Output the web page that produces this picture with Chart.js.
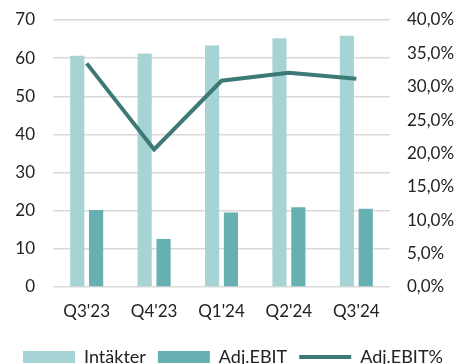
<!DOCTYPE html>
<html>
<head>
<meta charset="utf-8">
<script src="https://cdn.jsdelivr.net/npm/chart.js@4"></script>
<style>
  html, body { margin: 0; padding: 0; background: #fff; overflow: hidden; }
  #wrap { width: 466px; height: 376px; position: relative; }
</style>
</head>
<body>
<div id="wrap"><canvas id="myChart"></canvas></div>
<script>
const quarters = ["Q3'23", "Q4'23", "Q1'24", "Q2'24", "Q3'24"];
const intakter = [60.6, 61.2, 63.3, 65.2, 65.9];
const adjEbit = [20.2, 12.6, 19.5, 20.9, 20.5];
const adjEbitPct = [33.5, 20.6, 30.9, 32.1, 31.2];

const fontName = "Lato";
const tickColor = "#222222";

const data = {
  labels: quarters,
  datasets: [
    {
      type: 'line',
      label: 'Adj.EBIT%',
      data: adjEbitPct,
      yAxisID: 'y2',
      borderColor: '#3d7a77',
      backgroundColor: '#3d7a77',
      borderWidth: 4,
      pointRadius: 0,
      tension: 0,
      order: 0
    },
    {
      label: 'Intäkter',
      data: intakter,
      yAxisID: 'y',
      backgroundColor: '#a6d3d3',
      categoryPercentage: 0.56,
      barPercentage: 0.75,
      order: 1
    },
    {
      label: 'Adj.EBIT',
      data: adjEbit,
      yAxisID: 'y',
      backgroundColor: '#67b0b1',
      categoryPercentage: 0.56,
      barPercentage: 0.75,
      order: 1
    }
  ]
};

const legendOrder = ['Intäkter', 'Adj.EBIT', 'Adj.EBIT%'];

const config = {
  type: 'bar',
  data: data,
  options: {
    responsive: true,
    maintainAspectRatio: false,
    animation: false,
    layout: { padding: { top: 20, left: 0, right: 0, bottom: 0 } },
    plugins: {
      tooltip: { enabled: false },
      legend: {
        position: 'bottom',
        labels: {
          usePointStyle: true,
          pointStyleWidth: 52,
          boxHeight: 12,
          padding: 12,
          color: tickColor,
          font: { family: fontName, size: 18 },
          generateLabels: function (chart) {
            const items = Chart.defaults.plugins.legend.labels.generateLabels(chart);
            items.forEach(function (it) {
              if (it.text === 'Adj.EBIT%') {
                it.pointStyle = 'line';
                it.lineWidth = 4;
              } else {
                it.pointStyle = 'rect';
                it.lineWidth = 0;
              }
            });
            items.sort(function (a, b) {
              return legendOrder.indexOf(a.text) - legendOrder.indexOf(b.text);
            });
            return items;
          }
        }
      }
    },
    scales: {
      x: {
        grid: { display: false, drawTicks: false },
        border: { display: false },
        ticks: {
          color: tickColor,
          padding: 14,
          font: { family: fontName, size: 17 }
        },
        afterFit: function (scale) { scale.height = 49; }
      },
      y: {
        position: 'left',
        min: 0,
        max: 70,
        grid: { color: '#d9d9d9', lineWidth: 1.5, drawTicks: false },
        border: { display: false },
        ticks: {
          stepSize: 10,
          color: tickColor,
          padding: 18,
          font: { family: fontName, size: 17 }
        },
        afterFit: function (scale) { scale.width = 53; scale.paddingTop = 0; scale.paddingBottom = 0; }
      },
      y2: {
        position: 'right',
        min: 0,
        max: 40,
        grid: { display: false, drawTicks: false },
        border: { display: false },
        ticks: {
          stepSize: 5,
          color: tickColor,
          padding: 17,
          font: { family: fontName, size: 17 },
          callback: function (v) { return v.toFixed(1).replace('.', ',') + '%'; }
        },
        afterFit: function (scale) { scale.width = 76; scale.paddingTop = 0; scale.paddingBottom = 0; }
      }
    }
  }
};

var myChart = new Chart(document.getElementById('myChart'), config);
</script>
</body>
</html>
